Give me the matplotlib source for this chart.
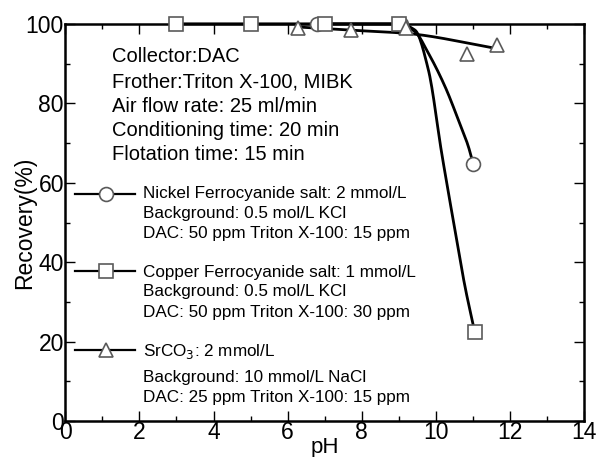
import numpy as np
import matplotlib
matplotlib.use("Agg")
import matplotlib.pyplot as plt
from matplotlib.ticker import MultipleLocator

plt.rcParams['font.family'] = ['Liberation Sans', 'DejaVu Sans']

# ---- data ----
ni_ph = [6.8, 9.05, 11.01]
ni_rec = [100, 100, 64.7]
cu_ph = [3, 5, 7, 9, 11.05]
cu_rec = [100, 100, 100, 100, 22.5]
sr_ph = [6.27, 7.7, 9.2, 10.85, 11.64]
sr_rec = [99.0, 98.4, 98.9, 92.4, 94.7]

# trend curves drawn through the points
ni_fit_ph = [6.8, 9.0, 9.44, 9.80, 10.25, 10.61, 10.88, 11.01]
ni_fit_rec = [100, 100, 98.0, 92.6, 84.2, 75.8, 69.1, 64.7]
cu_fit_ph = [3, 9.0, 9.44, 9.80, 10.16, 10.47, 10.79, 11.05]
cu_fit_rec = [100, 100, 98.4, 88.4, 67.4, 50.6, 33.8, 22.5]
sr_fit_ph = [6.27, 7.7, 9.2, 11.64]
sr_fit_rec = [99.2, 98.4, 97.6, 93.8]

header_lines = ["Collector:DAC", "Frother:Triton X-100, MIBK",
                "Air flow rate: 25 ml/min", "Conditioning time: 20 min",
                "Flotation time: 15 min"]
ni_label = ["Nickel Ferrocyanide salt: 2 mmol/L", "Background: 0.5 mol/L KCl",
            "DAC: 50 ppm Triton X-100: 15 ppm"]
cu_label = ["Copper Ferrocyanide salt: 1 mmol/L", "Background: 0.5 mol/L KCl",
            "DAC: 50 ppm Triton X-100: 30 ppm"]
sr_label = ["SrCO$_3$: 2 mmol/L", "Background: 10 mmol/L NaCl",
            "DAC: 25 ppm Triton X-100: 15 ppm"]


def pchip(x, y, n=300):
    x = np.asarray(x, float); y = np.asarray(y, float)
    h = np.diff(x); d = np.diff(y) / h
    m = np.zeros_like(x)
    for k in range(1, len(x) - 1):
        if d[k - 1] * d[k] > 0:
            w1 = 2 * h[k] + h[k - 1]; w2 = h[k] + 2 * h[k - 1]
            m[k] = (w1 + w2) / (w1 / d[k - 1] + w2 / d[k])
    m[0] = d[0]; m[-1] = d[-1]
    xs = np.linspace(x[0], x[-1], n)
    idx = np.clip(np.searchsorted(x, xs) - 1, 0, len(x) - 2)
    t = (xs - x[idx]) / h[idx]
    h00 = 2*t**3 - 3*t**2 + 1; h10 = t**3 - 2*t**2 + t
    h01 = -2*t**3 + 3*t**2; h11 = t**3 - t**2
    ys = h00*y[idx] + h10*h[idx]*m[idx] + h01*y[idx+1] + h11*h[idx]*m[idx+1]
    return xs, ys


fig = plt.figure(figsize=(5.97, 4.57), dpi=100)
ax = fig.add_axes([0.1094, 0.0783, 0.9782 - 0.1094, 0.9479 - 0.0783])

lw = 2.0
ec = '#5a5a5a'
for fx, fy in [(sr_fit_ph, sr_fit_rec), (cu_fit_ph, cu_fit_rec), (ni_fit_ph, ni_fit_rec)]:
    xs, ys = pchip(fx, fy)
    ax.plot(xs, ys, color='black', lw=lw, clip_on=False, zorder=3)

mk = dict(ls='none', mfc='white', mec=ec, mew=1.2, clip_on=False, zorder=4)
ax.plot(ni_ph, ni_rec, marker='o', ms=10, **mk)
ax.plot(cu_ph, cu_rec, marker='s', ms=10.5, **mk)
ax.plot(sr_ph, sr_rec, marker='^', ms=10, **mk)

ax.set_xlim(0, 14)
ax.set_ylim(0, 100)
ax.xaxis.set_major_locator(MultipleLocator(2))
ax.xaxis.set_minor_locator(MultipleLocator(1))
ax.yaxis.set_major_locator(MultipleLocator(20))
ax.yaxis.set_minor_locator(MultipleLocator(10))
ax.tick_params(which='both', direction='in', top=True, right=True,
               labelsize=16.5, pad=1)
ax.tick_params(axis='x', pad=0)
ax.tick_params(which='major', length=7, width=1.0)
ax.tick_params(which='minor', length=3.5, width=1.0)
for s in ax.spines.values():
    s.set_linewidth(1.8)
ax.set_xlabel('pH', fontsize=16, labelpad=-5)
ax.set_ylabel('Recovery(%)', fontsize=16.5, labelpad=-7.5)

# header text
for txt, yb in zip(header_lines, [0.903, 0.840, 0.779, 0.718, 0.657]):
    ax.text(0.0895, yb, txt, transform=ax.transAxes, fontsize=14.5, va='baseline')

# legend-like entries
entries = [('o', 10, 0.573, ni_label, [0.561, 0.511, 0.460]),
           ('s', 10.5, 0.379, cu_label, [0.364, 0.315, 0.263]),
           ('^', 10, 0.179, sr_label, [0.165, 0.099, 0.049])]
for m, ms, yh, lab, ybs in entries:
    ax.plot([0.0187, 0.134], [yh, yh], transform=ax.transAxes, color='black',
            lw=1.6, clip_on=False, zorder=3)
    ax.plot([0.0779], [yh], transform=ax.transAxes, marker=m, ms=ms,
            mfc='white', mec=ec, mew=1.2, ls='none', clip_on=False, zorder=4)
    for t, yb in zip(lab, ybs):
        ax.text(0.149, yb, t, transform=ax.transAxes, fontsize=12.3, va='baseline')

fig.savefig('out.png', dpi=100)
